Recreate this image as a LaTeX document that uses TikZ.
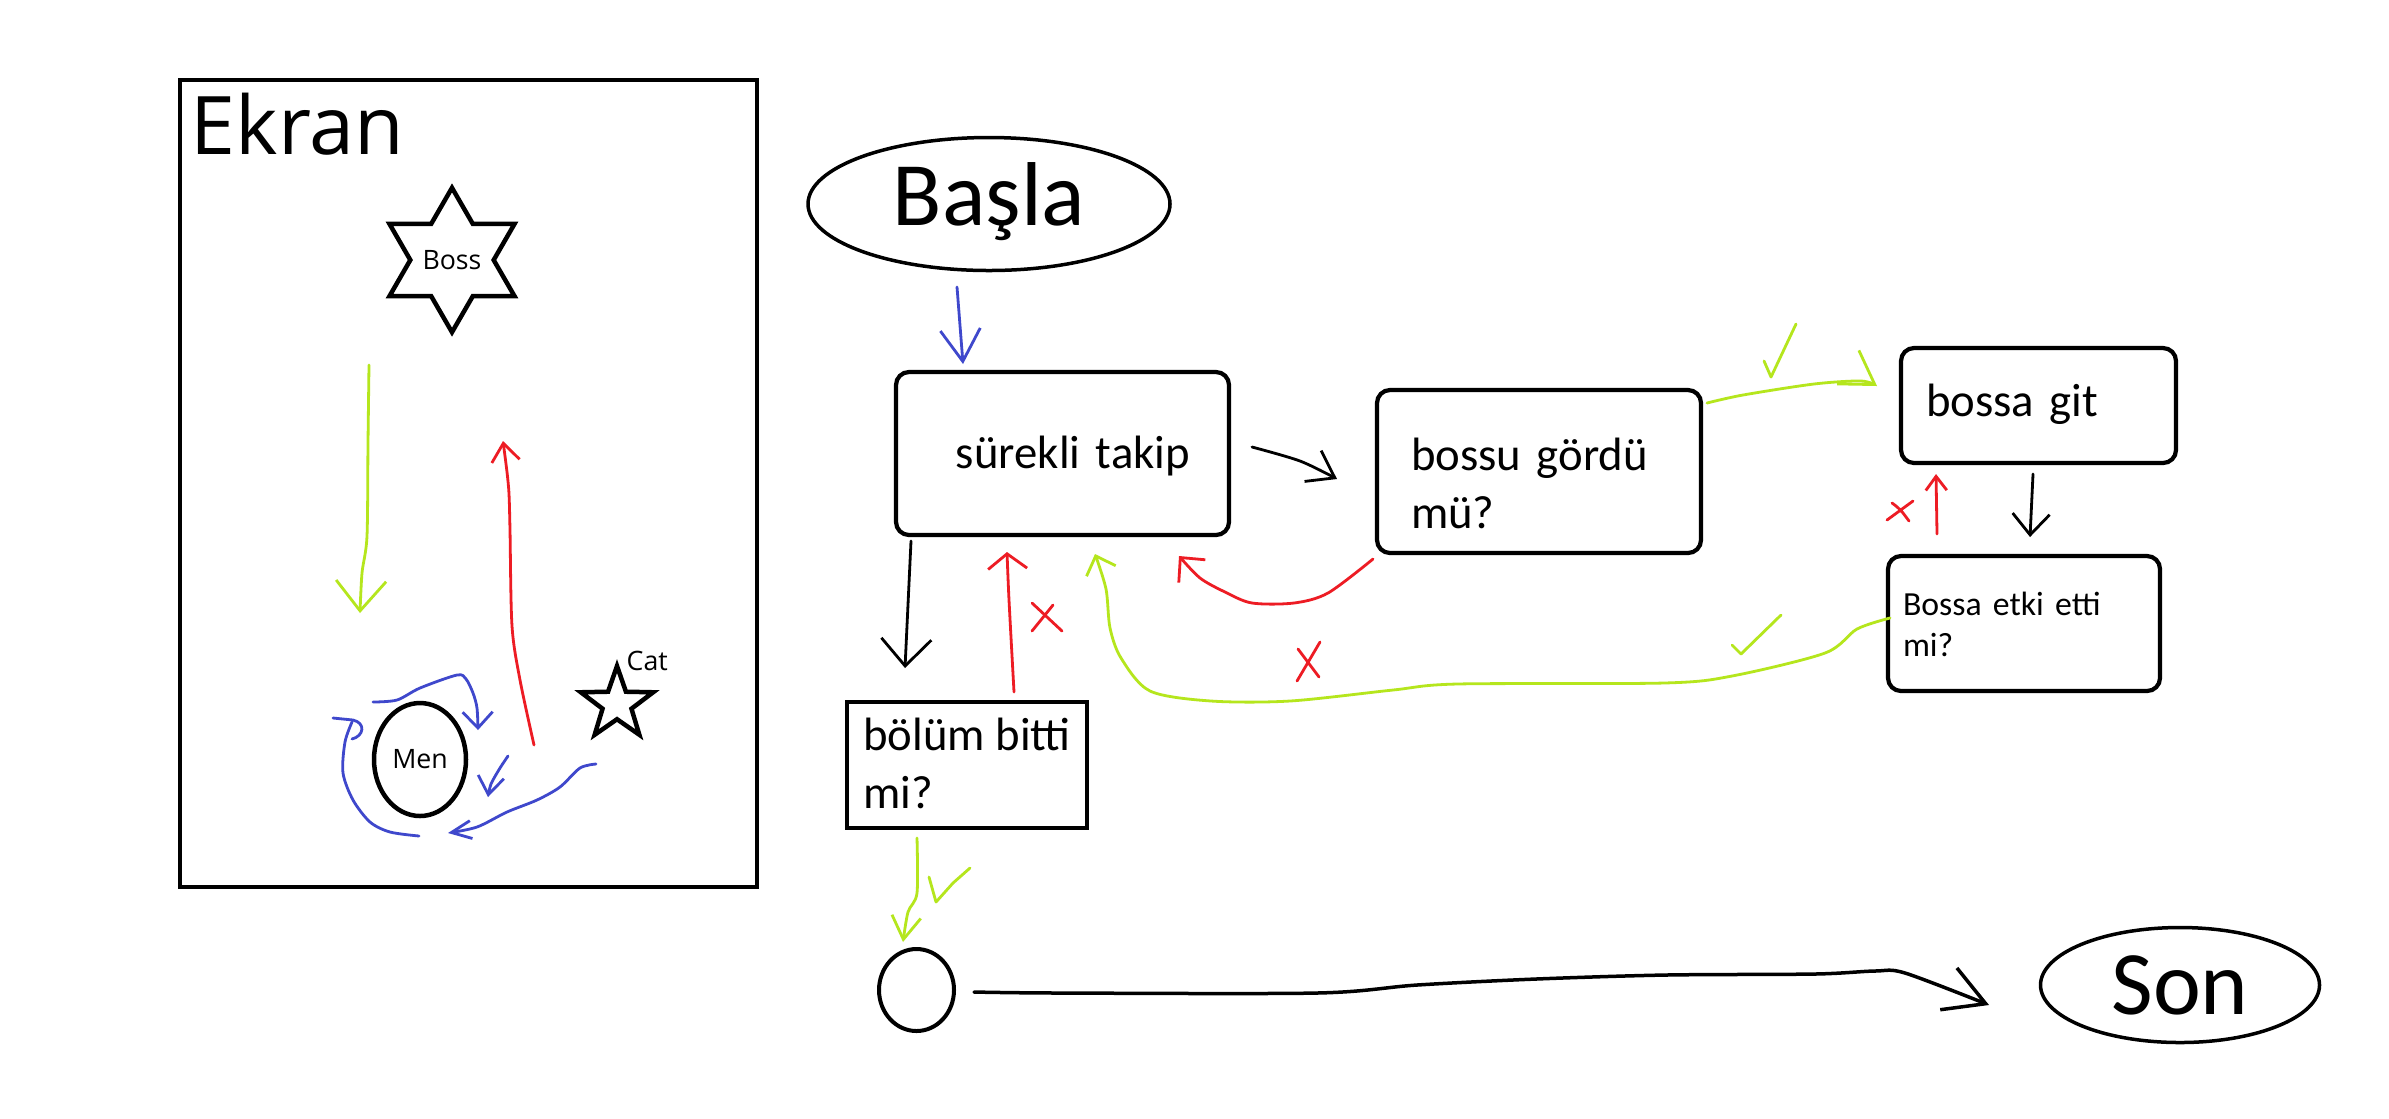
\documentclass[tikz,border=0pt]{standalone}
\usepackage{fontspec}
\setmainfont{Carlito}
\newfontfamily\screenfont{Open Sans}
\usetikzlibrary{shapes.geometric,arrows.meta}

\definecolor{paintgreen}{RGB}{181,230,29}
\definecolor{paintred}{RGB}{237,28,36}
\definecolor{paintblue}{RGB}{63,72,204}

\newcommand{\startfont}{\fontsize{25.8pt}{31pt}\selectfont}
\newcommand{\flowfont}{\fontsize{13.3pt}{16.5pt}\selectfont}
\newcommand{\etkifont}{\fontsize{9.6pt}{11.7pt}\selectfont}
\newcommand{\ekranfont}{\screenfont\fontsize{23pt}{27pt}\selectfont}
\newcommand{\spritefont}{\screenfont\fontsize{7.6pt}{9pt}\selectfont}

\begin{document}
\begin{tikzpicture}[x=0.1mm, y=-0.1mm,
		pen/.style={line width=0.28mm, line cap=round, line join=round},
		greenpen/.style={pen, paintgreen},
		redpen/.style={pen, paintred},
		bluepen/.style={pen, paintblue},
		blackpen/.style={pen, black},
		handtip/.style 2 args={-{Straight Barb[length=#1, width=#2]}},
		terminal/.style={ellipse, draw, line width=0.35mm, inner sep=0pt, font=\startfont},
		flowbox/.style={draw, line width=0.42mm, rounded corners=1.3mm, inner ysep=0pt, font=\flowfont},
		sprite/.style={draw, line width=0.45mm, inner sep=0pt, font=\spritefont}]
		
		% Background
		\fill[white] (0,0) rectangle (2389,1118);
		
		% Ekran frame
		\draw[line width=0.42mm] (180,80) rectangle (757,887);
		\node[anchor=base west, inner sep=0pt, font=\ekranfont] (ekran) at (190,154) {Ekran};
		
		% Sprites
		\node[sprite, star, star points=6, star point ratio=1.732, minimum size=13.4mm] (boss) at (452,260) {Boss};
		\node[sprite, ellipse, minimum width=9.2mm, minimum height=11.3mm] (men) at (420,759.5) {Men};
		\node[sprite, star, star points=5, star point ratio=2.5, minimum size=7.6mm] (cat) at (617,704) {};
		\node[anchor=base west, inner sep=0pt, font=\spritefont] (catlabel) at (626,670) {Cat};
		
		% Moves on the screen
		\coordinate (bossgo) at (369,365);
		\coordinate (bossend) at (360,613);
		\draw[greenpen, handtip={3mm}{5mm}] plot[smooth] coordinates {(bossgo) (368,443) (367,536) (362,573) (bossend)};
		
		\coordinate (mengo) at (534,745);
		\coordinate (menend) at (503,441);
		\draw[redpen, handtip={1.8mm}{2.8mm}] plot[smooth] coordinates {(mengo) (520,680) (512,626) (510,530) (509,494) (507,472) (menend)};
		
		\coordinate (arcgo) at (373,702);
		\coordinate (arcend) at (478,730);
		\draw[bluepen, handtip={1.6mm}{3mm}] plot[smooth] coordinates {(arcgo) (397,700) (420,688) (457,675) (466,679) (473,693) (477,708) (arcend)};
		
		\coordinate (loopgo) at (419,836);
		\coordinate (loopend) at (352,722);
		\draw[bluepen] plot[smooth] coordinates {(loopgo) (390,832) (370,822) (353,800) (343,773) (345,742) (loopend)};
		\draw[bluepen] (333,718) -- (353,720) .. controls (366,723) and (364,736) .. (352,739);
		
		\coordinate (hookgo) at (508,756);
		\coordinate (hookend) at (488,797);
		\draw[bluepen, handtip={1.8mm}{2.6mm}] plot[smooth] coordinates {(hookgo) (500,768) (491,784) (hookend)};
		
		\coordinate (catgo) at (596,764);
		\coordinate (catend) at (448,833);
		\draw[bluepen, handtip={2mm}{1.8mm}] plot[smooth] coordinates {(catgo) (580,768) (560,787) (537,800) (507,812) (477,827) (catend)};
		
		% Flowchart nodes
		\node[terminal, minimum width=36.2mm, minimum height=13.3mm, text height=4.2mm, text depth=0mm] (basla) at (989,204) {Başla};
		\node[flowbox, minimum width=33.3mm, minimum height=16.3mm, text width=25.5mm, inner xsep=3.9mm, align=right, text height=2.9mm, text depth=0mm] (takip) at (1062.5,453.5) {sürekli takip};
		\node[flowbox, minimum width=32.4mm, minimum height=16.3mm, text width=25.6mm, inner xsep=3.4mm, align=left, text height=3mm, text depth=3.3mm] (gordu) at (1539,471.5) {bossu gördü\\mü?};
		\node[flowbox, minimum width=27.5mm, minimum height=11.5mm, text width=22.5mm, inner xsep=2.5mm, align=left, text height=2.1mm, text depth=0mm] (git) at (2038.5,405.5) {bossa git};
		\node[flowbox, font=\etkifont, minimum width=27.2mm, minimum height=13.5mm, text width=24.2mm, inner xsep=1.5mm, align=left, text height=0mm, text depth=1.7mm] (etki) at (2024,623.5) {Bossa etki etti\\mi?};
		\node[flowbox, rounded corners=0pt, minimum width=24mm, minimum height=12.6mm, align=left, text height=8.6mm, text depth=0mm] (bitti) at (967,765) {bölüm bitti\\mi?};
		\node[ellipse, draw, line width=0.4mm, minimum width=7.5mm, minimum height=8.2mm, inner sep=0pt] (join) at (916.5,990) {};
		\node[terminal, minimum width=27.9mm, minimum height=11.5mm, text height=5.8mm, text depth=0mm] (son) at (2180,985) {Son};
		
		% Connectors
		\coordinate (baslaout) at (957,287);
		\coordinate (takipin) at (963,364);
		\draw[bluepen, handtip={3.2mm}{4mm}] (baslaout) -- (takipin);
		
		\coordinate (takipout) at (1252,447);
		\coordinate (gordutin) at (1337,479);
		\draw[blackpen, handtip={2.5mm}{3.5mm}] plot[smooth] coordinates {(takipout) (1300,461) (gordutin)};
		
		\coordinate (takipdown) at (911,541);
		\coordinate (bittiin) at (905,668);
		\draw[blackpen, handtip={2.7mm}{5mm}] (takipdown) -- (bittiin);
		
		\coordinate (bittiout) at (1014,692);
		\coordinate (takipback) at (1007,552);
		\draw[redpen, handtip={1.5mm}{3.9mm}] plot[smooth] coordinates {(bittiout) (1009,600) (takipback)};
		
		\coordinate (gordunot) at (1373,559);
		\coordinate (takipnot) at (1179,556);
		\draw[redpen, handtip={1.8mm}{3.5mm}] plot[smooth] coordinates {(gordunot) (1328,593) (1294,603) (1252,603) (1225,592) (1200,578) (takipnot)};
		
		\coordinate (etkiyes) at (1890,618);
		\coordinate (takipyes) at (1095,554);
		\draw[greenpen, handtip={1.6mm}{3.1mm}] plot[smooth] coordinates {(etkiyes) (1857,629) (1825,653) (1732,676) (1664,683) (1457,684) (1393,690) (1290,701) (1211,701) (1150,691) (1121,658) (1110,628) (1106,589) (takipyes)};
		
		\coordinate (gorduyes) at (1707,403);
		\coordinate (gitin) at (1877,386);
		\draw[greenpen, handtip={3.2mm}{4mm}] plot[smooth] coordinates {(gorduyes) (1743,395) (1814,384) (1861,381) (gitin)};
		
		\coordinate (etkinot) at (1937,534);
		\coordinate (gitback) at (1936,474);
		\draw[redpen, handtip={1.4mm}{2.1mm}] (etkinot) -- (gitback);
		
		\coordinate (gitout) at (2033,474);
		\coordinate (etkiin) at (2030,537);
		\draw[blackpen, handtip={2.1mm}{3.7mm}] (gitout) -- (etkiin);
		
		\coordinate (bittiyes) at (917,838);
		\coordinate (joinin) at (903,942);
		\draw[greenpen, handtip={2.3mm}{2.9mm}] plot[smooth] coordinates {(bittiyes) (917,893) (908,912) (joinin)};
		
		\coordinate (joinout) at (974,992);
		\coordinate (sonin) at (1989,1005);
		\draw[blackpen, line width=0.35mm, handtip={4mm}{4.5mm}] plot[smooth] coordinates {(joinout) (1059,993) (1317,993) (1417,985) (1536,979) (1666,975) (1815,974) (1875,971) (1905,973) (sonin)};
		
		% Ticks and crosses
		\draw[greenpen] (1764,361) -- (1771,377) -- (1796,324);
		\draw[greenpen] (1732,645) -- (1741,654) -- (1781,615);
		\draw[greenpen] (929,877) -- (936,902) -- (953,883) -- (970,868);
		\draw[redpen] (1032,603) -- (1062,631) (1053,605) -- (1032,631);
		\draw[redpen] (1298,649) -- (1319,677) (1320,642) -- (1297,681);
		\draw[redpen] (1887,520) -- (1913,501) (1892,503) .. controls (1902,510) and (1905,516) .. (1909,521);
		
	\end{tikzpicture}
\end{document}
